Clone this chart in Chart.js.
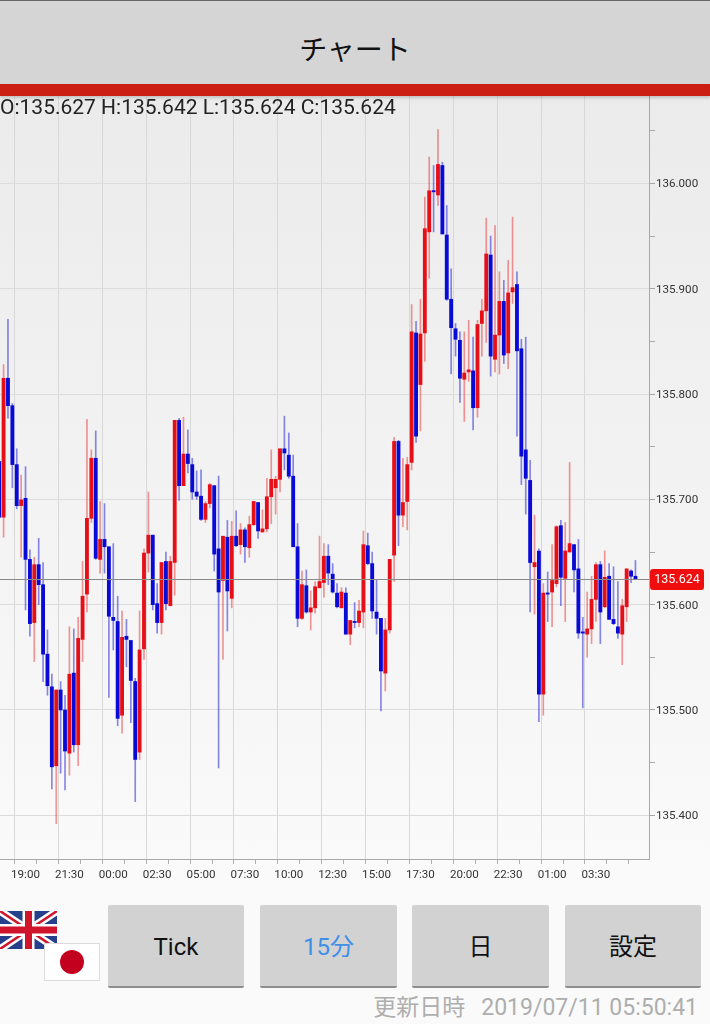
<!DOCTYPE html>
<html lang="ja">
<head>
<meta charset="utf-8">
<title>チャート</title>
<script src="https://cdn.jsdelivr.net/npm/chart.js@4"></script>
<style>
html,body{margin:0;padding:0;width:710px;height:1024px;overflow:hidden;background:#fafafa;font-family:Roboto,"Noto Sans CJK JP",sans-serif}
#plotbg{position:absolute;left:0;top:96px;width:710px;height:770px;background:linear-gradient(#ebebeb,#fafafa)}
canvas{position:absolute;left:-3px;top:0}
#head{position:absolute;left:0;top:0;width:710px;height:84px;background:#d5d5d5;border-top:1px solid #666;box-sizing:border-box;text-align:center;font:28px/94px "Noto Sans CJK JP";color:#111}
#bar{position:absolute;left:0;top:84px;width:710px;height:12px;background:#cb1f14;box-shadow:0 2px 3px rgba(0,0,0,.18)}
#ohlc{position:absolute;left:0;top:94px;font:21px/26px Roboto;color:#222;white-space:nowrap}
.btn{position:absolute;top:905px;height:81px;background:#d2d2d2;border-bottom:2px solid #8e8e8e;border-radius:2px;box-sizing:content-box;text-align:center;font:24px/85px Roboto,"Noto Sans CJK JP";color:#111}
#stamp{position:absolute;right:12px;top:993px;font:23px/30px Roboto,"Noto Sans CJK JP";color:#aeaeae;white-space:nowrap}
#stamp span{margin-left:16px}
svg{position:absolute}
</style>
</head>
<body>
<div id="plotbg"></div>
<canvas id="c" width="713" height="900"></canvas>
<div id="head">チャート</div>
<div id="bar"></div>
<div id="ohlc">O:135.627 H:135.642 L:135.624 C:135.624</div>
<svg style="left:0;top:911px" width="57" height="38" viewBox="0 0 57 38">
<rect width="57" height="38" fill="#27408b"/>
<path d="M0 0L57 38M57 0L0 38" stroke="#fff" stroke-width="7.5"/>
<path d="M0 0L57 38M57 0L0 38" stroke="#cf142b" stroke-width="2.5"/>
<path d="M28.5 0V38M0 19H57" stroke="#fff" stroke-width="12"/>
<path d="M28.5 0V38M0 19H57" stroke="#cf142b" stroke-width="7"/>
</svg>
<svg style="left:44px;top:943px" width="56" height="38" viewBox="0 0 56 38">
<rect x=".5" y=".5" width="55" height="37" fill="#fff" stroke="#dcdcdc"/>
<circle cx="28" cy="19" r="12" fill="#c4001f"/>
</svg>
<div class="btn" style="left:108px;width:136px">Tick</div>
<div class="btn" style="left:260px;width:137px;color:#3f8fe8">15分</div>
<div class="btn" style="left:412px;width:137px">日</div>
<div class="btn" style="left:565px;width:136px">設定</div>
<div id="stamp">更新日時<span>2019/07/11 05:50:41</span></div>
<script>
const opens = [
135.736,135.683,135.815,135.789,135.733,135.694,135.701,135.643,135.583,135.638,
135.619,135.553,135.522,135.447,135.519,135.500,135.459,135.535,135.467,135.567,
135.610,135.682,135.739,135.643,135.662,135.655,135.588,135.584,135.495,135.570,
135.566,135.527,135.460,135.558,135.649,135.666,135.601,135.583,135.641,135.599,
135.640,135.775,135.713,135.743,135.733,135.707,135.703,135.681,135.696,135.713,
135.653,135.623,135.664,135.606,135.665,135.657,135.671,135.654,135.676,135.697,
135.669,135.672,135.7025,135.711,135.719,135.748,135.742,135.722,135.655,135.587,
135.618,135.593,135.597,135.616,135.621,135.646,135.629,135.611,135.597,135.611,
135.572,135.584,135.583,135.593,135.656,135.639,135.593,135.587,135.535,135.576,
135.647,135.755,135.685,135.698,135.735,135.858,135.809,135.858,135.954,135.993,
135.989,136.017,135.951,135.890,135.862,135.851,135.814,135.821,135.822,135.787,
135.867,135.879,135.932,135.833,135.856,135.888,135.839,135.897,135.904,135.843,
135.747,135.718,135.636,135.651,135.515,135.611,135.612,135.620,135.675,135.625,
135.650,135.657,135.634,135.574,135.572,135.577,135.605,135.638,135.598,135.627,
135.586,135.579,135.572,135.598,135.632,135.627];
const closes = [
135.683,135.815,135.789,135.733,135.694,135.6995,135.643,135.582,135.638,135.619,
135.553,135.523,135.446,135.519,135.500,135.461,135.534,135.467,135.568,135.608,
135.682,135.739,135.644,135.662,135.655,135.589,135.585,135.492,135.569,135.567,
135.528,135.453,135.557,135.649,135.666,135.600,135.583,135.640,135.601,135.641,
135.775,135.713,135.743,135.734,135.707,135.703,135.681,135.696,135.714,135.648,
135.612,135.665,135.613,135.665,135.656,135.671,135.655,135.676,135.698,135.670,
135.672,135.7025,135.719,135.719,135.748,135.744,135.722,135.655,135.587,135.619,
135.593,135.597,135.617,135.622,135.646,135.630,135.612,135.598,135.612,135.572,
135.585,135.583,135.594,135.657,135.639,135.594,135.587,135.537,135.576,135.643,
135.755,135.685,135.697,135.733,135.859,135.760,135.857,135.957,135.993,135.992,
136.018,135.952,135.890,135.863,135.852,135.815,135.820,135.823,135.787,135.866,
135.879,135.933,135.836,135.856,135.888,135.837,135.896,135.901,135.841,135.741,
135.720,135.640,135.640,135.515,135.611,135.610,135.623,135.674,135.626,135.651,
135.658,135.633,135.573,135.573,135.577,135.605,135.638,135.593,135.626,135.586,
135.582,135.573,135.599,135.634,135.627,135.624];
const highs = [
135.738,135.828,135.871,135.791,135.748,135.723,135.731,135.652,135.645,135.663,
135.640,135.576,135.534,135.519,135.527,135.514,135.579,135.577,135.588,135.641,
135.776,135.747,135.765,135.698,135.696,135.655,135.658,135.608,135.594,135.586,
135.566,135.530,135.594,135.653,135.707,135.666,135.620,135.640,135.650,135.646,
135.775,135.777,135.778,135.766,135.739,135.727,135.728,135.698,135.715,135.713,
135.722,135.665,135.680,135.679,135.689,135.677,135.673,135.684,135.698,135.697,
135.690,135.720,135.747,135.722,135.748,135.779,135.763,135.742,135.677,135.632,
135.633,135.613,135.622,135.665,135.658,135.657,135.639,135.620,135.616,135.616,
135.585,135.602,135.604,135.670,135.668,135.650,135.624,135.587,135.587,135.643,
135.759,135.756,135.739,135.740,135.885,135.869,135.890,135.987,136.025,136.017,
136.051,136.020,135.979,135.919,135.867,135.859,135.859,135.870,135.854,135.870,
135.890,135.967,135.950,135.960,135.916,135.908,135.927,135.968,135.916,135.852,
135.854,135.737,135.685,135.653,135.620,135.631,135.657,135.675,135.680,135.678,
135.735,135.657,135.662,135.588,135.612,135.627,135.640,135.641,135.651,135.639,
135.636,135.622,135.605,135.634,135.633,135.642];
const lows = [
135.675,135.664,135.777,135.711,135.691,135.645,135.595,135.570,135.546,135.600,
135.527,135.514,135.425,135.392,135.440,135.424,135.438,135.460,135.447,135.546,
135.593,135.678,135.643,135.630,135.630,135.512,135.557,135.485,135.478,135.541,
135.488,135.413,135.453,135.548,135.631,135.595,135.573,135.572,135.595,135.599,
135.609,135.699,135.713,135.725,135.700,135.700,135.680,135.678,135.692,135.632,
135.445,135.548,135.575,135.597,135.655,135.648,135.640,135.645,135.675,135.663,
135.669,135.669,135.677,135.686,135.707,135.728,135.720,135.655,135.579,135.586,
135.592,135.576,135.592,135.616,135.607,135.619,135.611,135.597,135.597,135.572,
135.562,135.578,135.579,135.578,135.638,135.587,135.572,135.499,135.518,135.573,
135.622,135.656,135.674,135.671,135.728,135.754,135.765,135.831,135.910,135.954,
135.979,135.952,135.889,135.819,135.836,135.792,135.774,135.812,135.766,135.778,
135.836,135.849,135.817,135.821,135.819,135.829,135.824,135.886,135.760,135.714,
135.686,135.593,135.591,135.489,135.495,135.584,135.579,135.617,135.599,135.584,
135.650,135.612,135.568,135.502,135.550,135.563,135.584,135.563,135.597,135.586,
135.581,135.568,135.543,135.584,135.621,135.624];
const categories = opens.map((_, i) => i);
const xTickIndexes = [];
for (let i = 1; i <= 141; i += 5) xTickIndexes.push(i);
const xLabelIndexes = [6,16,26,36,46,56,66,76,86,96,106,116,126,136];
const xTickLabels = ["19:00","21:30","00:00","02:30","05:00","07:30","10:00","12:30","15:00","17:30","20:00","22:30","01:00","03:30"];
const yTicks = [135.40,135.45,135.50,135.55,135.60,135.65,135.70,135.75,135.80,135.85,135.90,135.95,136.00,136.05];
const yLabelTicks = [135.40,135.50,135.60,135.70,135.80,135.90,136.00];
const lastClose = 135.624;

const RED = "#e60f17", BLUE = "#0a0ad6", RED_W = "rgba(230,50,50,.5)", BLUE_W = "rgba(40,40,215,.55)";
const up = i => closes[i] > opens[i];
const isMajor = v => yLabelTicks.some(t => Math.abs(t - v) < 1e-6);

const priceTag = {
  id: "priceTag",
  afterDatasetsDraw(chart) {
    const {ctx, chartArea: a, scales: {y}} = chart;
    const py = Math.floor(y.getPixelForValue(lastClose)) + .5;
    ctx.save();
    ctx.strokeStyle = "#8a8a8a"; ctx.lineWidth = 1;
    ctx.beginPath(); ctx.moveTo(a.left, py); ctx.lineTo(a.right, py); ctx.stroke();
    ctx.fillStyle = "#f00d0d";
    ctx.beginPath(); ctx.roundRect(a.right + 1, py - 10.5, 54, 21, 3); ctx.fill();
    ctx.fillStyle = "#fff"; ctx.font = "12.5px Roboto"; ctx.textAlign = "center"; ctx.textBaseline = "middle";
    ctx.fillText(lastClose.toFixed(3), a.right + 28, py + .5);
    ctx.restore();
  }
};

new Chart(document.getElementById("c"), {
  type: "bar",
  data: {
    labels: categories,
    datasets: [
      {label: "wick", order: 2, barThickness: 1,
       data: categories.map(i => ({x: i, y: [lows[i], highs[i]]})),
       backgroundColor: categories.map(i => up(i) ? RED_W : BLUE_W)},
      {label: "body", order: 1, barThickness: 3.2, minBarLength: 1.2,
       data: categories.map(i => ({x: i, y: [Math.min(opens[i], closes[i]), Math.max(opens[i], closes[i])]})),
       backgroundColor: categories.map(i => up(i) ? RED : BLUE)}
    ]
  },
  options: {
    responsive: false,
    animation: false,
    events: [],
    layout: {padding: {top: 96, left: 0, right: 0, bottom: 0}},
    datasets: {bar: {grouped: false}},
    plugins: {legend: {display: false}, tooltip: {enabled: false}},
    scales: {
      x: {
        type: "linear", min: -0.5, max: 148.09, offset: false,
        afterBuildTicks(s) { s.ticks = xTickIndexes.map(value => ({value})); },
        afterFit(s) { s.height = 41; s.paddingLeft = 0; s.paddingRight = 0; },
        border: {color: "#a8a8a8"},
        grid: {
          color: c => xLabelIndexes.includes(c.tick && c.tick.value) ? "#d8d8d8" : "rgba(0,0,0,0)",
          tickColor: "#b0b0b0", tickLength: 5, drawTicks: true
        },
        ticks: {
          autoSkip: false, maxRotation: 0, minRotation: 0, padding: 4,
          color: "#333", font: {family: "Roboto", size: 11.6},
          callback: v => { const k = xLabelIndexes.indexOf(v); return k >= 0 ? xTickLabels[k] : ""; }
        }
      },
      y: {
        position: "right", min: 135.3585, max: 136.083,
        afterBuildTicks(s) { s.ticks = yTicks.map(value => ({value})); },
        afterFit(s) { s.width = 61; s.paddingTop = 0; s.paddingBottom = 0; },
        border: {color: "#a8a8a8"},
        grid: {
          color: c => isMajor(c.tick ? c.tick.value : 0) ? "#dcdcdc" : "rgba(0,0,0,0)",
          tickColor: "#a8a8a8", tickLength: 6, drawTicks: true
        },
        ticks: {
          autoSkip: false, padding: 1, labelOffset: 1,
          color: "#333", font: {family: "Roboto", size: 11.6},
          callback: v => isMajor(v) ? v.toFixed(3) : ""
        }
      }
    }
  },
  plugins: [priceTag]
});
</script>
</body>
</html>
